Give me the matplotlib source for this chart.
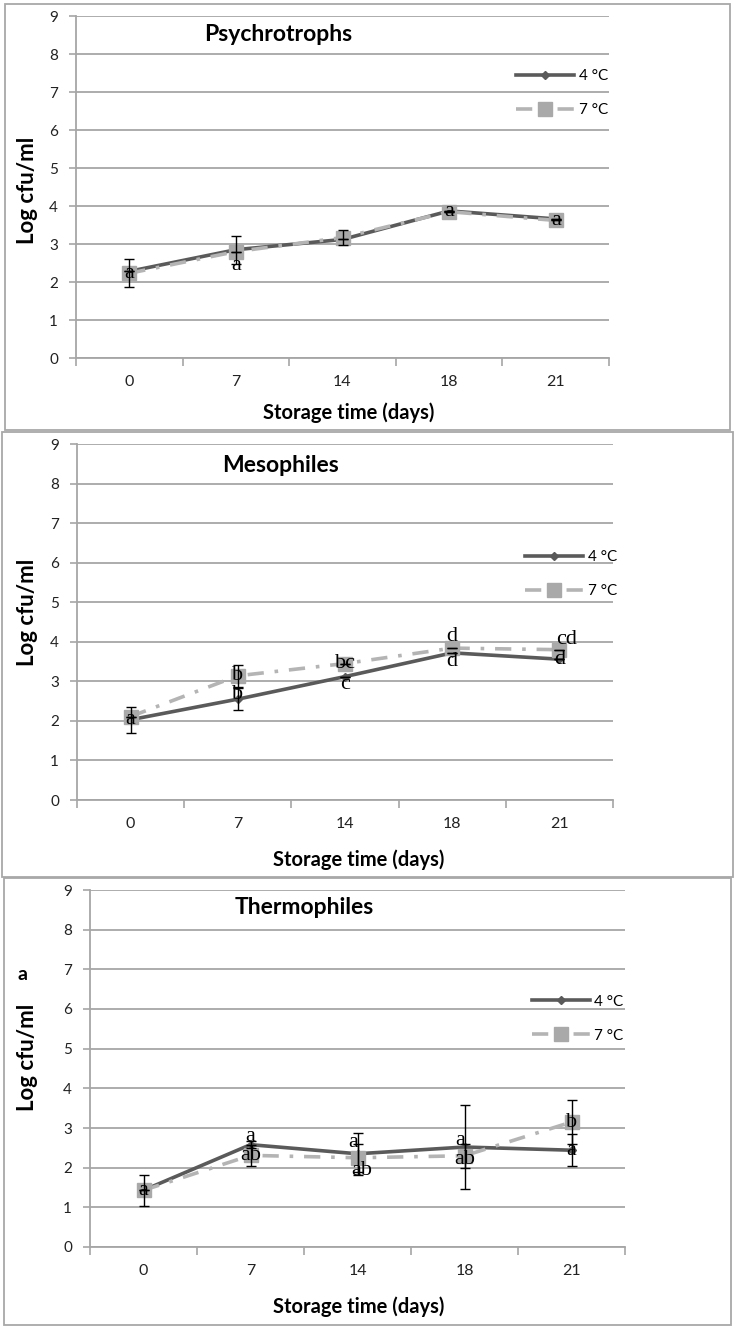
import matplotlib
matplotlib.use("Agg")
import matplotlib.pyplot as plt
from matplotlib.patches import Rectangle
import numpy as np

plt.rcParams['font.family'] = ['Lato', 'DejaVu Sans']

# ---- data ----
days = ["0", "7", "14", "18", "21"]
series_names = ["4 °C", "7 °C"]

psy_4 = [2.28, 2.85, 3.12, 3.87, 3.66]
psy_7 = [2.23, 2.80, 3.17, 3.85, 3.62]
psy_err4 = [0.0, 0.37, 0.0, 0.0, 0.0]
psy_err7 = [0.37, 0.0, 0.20, 0.0, 0.0]
psy_let4 = ["", "", "", "", ""]
psy_let7 = ["a", "a", "", "a", "a"]

mes_4 = [2.03, 2.55, 3.12, 3.72, 3.56]
mes_7 = [2.11, 3.14, 3.45, 3.84, 3.80]
mes_err4 = [0.33, 0.27, 0.0, 0.0, 0.0]
mes_err7 = [0.0, 0.28, 0.0, 0.0, 0.0]
mes_let4 = ["a", "b", "c", "d", "d"]
mes_let7 = ["", "b", "bc", "d", "cd"]

the_4 = [1.43, 2.58, 2.35, 2.52, 2.44]
the_7 = [1.43, 2.31, 2.25, 2.30, 3.15]
the_err4 = [0.39, 0.08, 0.53, 1.06, 0.40]
the_err7 = [0.0, 0.26, 0.35, 0.30, 0.55]
the_let4 = ["a", "a", "a", "a", "a"]
the_let7 = ["", "ab", "ab", "ab", "b"]

titles = ["Psychrotrophs", "Mesophiles", "Thermophiles"]

# ---- styling / placement ----
C4 = "#5a5a5a"
C7 = "#b4b4b4"
GRID = "#a6a6a6"
LETTER_FONT = ["Liberation Serif", "DejaVu Serif"]

W, H = 734, 1333
fig = plt.figure(figsize=(W / 100, H / 100), dpi=100)


def fy(py):
    return 1 - py / H


def fx(px):
    return px / W


# pixel boxes: (left, right, top, bottom) for axes, and panel frames
axes_px = [(76, 609, 16, 358), (77, 613, 444, 800), (90, 625, 890, 1247)]
frame_px = [(5, 730, 4, 430), (2, 733, 432, 877), (4, 731, 878, 1325)]
title_pos = [(0.38, 0.947), (0.38, 0.94), (0.40, 0.95)]
ylab_px = [(27, 190), (27, 612), (27, 1057)]
xlab_px = [(349, 413), (359, 860), (359, 1307)]
legend_anchor = [(0.80, 0.885), (0.81, 0.74), (0.80, 0.745)]

# letter offsets in points (x, y) for each series / day
off4 = [
    [(0, 0)] * 5,
    [(0, 0), (0, 3), (0, -6), (0, -6), (0, 0)],
    [(0, 0), (0, 6), (-3, 8), (-3, 5), (0, 0)],
]
off7 = [
    [(0, 0), (0, -10), (0, 0), (0, 0), (0, 0)],
    [(0, 0), (0, 0), (0, 0), (0, 8), (5, 7)],
    [(0, 0), (0, 0), (3, -9), (0, -3), (0, 0)],
]

panels = [
    (psy_4, psy_7, psy_err4, psy_err7, psy_let4, psy_let7),
    (mes_4, mes_7, mes_err4, mes_err7, mes_let4, mes_let7),
    (the_4, the_7, the_err4, the_err7, the_let4, the_let7),
]

x = np.arange(len(days))

for i, (v4, v7, e4, e7, l4, l7) in enumerate(panels):
    # panel frame
    fl, fr, ft, fb = frame_px[i]
    fig.patches.append(Rectangle((fx(fl), fy(fb)), fx(fr) - fx(fl), fy(ft) - fy(fb),
                                 transform=fig.transFigure, fill=False,
                                 edgecolor="#a8a8a8", linewidth=1.3))

    l, r, t, b = axes_px[i]
    ax = fig.add_axes([fx(l), fy(b), fx(r) - fx(l), fy(t) - fy(b)])
    ax.set_xlim(-0.5, len(days) - 0.5)
    ax.set_ylim(0, 9)
    ax.set_yticks(range(0, 10))
    ax.set_xticks(x)
    ax.set_xticklabels(days)
    ax.set_xticks(np.arange(-0.5, len(days)), minor=True)
    ax.tick_params(axis="x", which="major", length=0, pad=12, labelsize=11.5,
                   labelcolor="#222222")
    ax.tick_params(axis="x", which="minor", length=6, width=1.2, color=GRID,
                   direction="out")
    ax.tick_params(axis="y", length=5, width=1.2, color=GRID, pad=8,
                   labelsize=11, labelcolor="#222222")
    for s in ["top", "right"]:
        ax.spines[s].set_visible(False)
    for s in ["left", "bottom"]:
        ax.spines[s].set_color(GRID)
        ax.spines[s].set_linewidth(1.3)
    ax.yaxis.grid(True, color=GRID, linewidth=1.3)
    ax.set_axisbelow(True)

    ax.errorbar(x, v4, yerr=e4, fmt="none", ecolor="black", elinewidth=1,
                capsize=3.5, capthick=1, zorder=5)
    ax.errorbar(x, v7, yerr=e7, fmt="none", ecolor="black", elinewidth=1,
                capsize=3.5, capthick=1, zorder=5)

    ax.plot(x, v4, color=C4, linewidth=2.6, marker="D", markersize=4.5,
            markerfacecolor=C4, markeredgecolor=C4, label=series_names[0], zorder=3)
    ax.plot(x, v7, color=C7, linewidth=2.6, dashes=(4.5, 3, 1, 3),
            marker="s", markersize=10.5, markerfacecolor="#a9a9a9",
            markeredgecolor="#a9a9a9", label=series_names[1], zorder=4)

    for j in range(len(days)):
        if l4[j]:
            ax.annotate(l4[j], (x[j], v4[j]), xytext=off4[i][j], textcoords="offset points",
                        ha="center", va="center", fontsize=16, color="black",
                        family=LETTER_FONT, zorder=6)
        if l7[j]:
            ax.annotate(l7[j], (x[j], v7[j]), xytext=off7[i][j], textcoords="offset points",
                        ha="center", va="center", fontsize=16, color="black",
                        family=LETTER_FONT, zorder=6)

    ax.text(title_pos[i][0], title_pos[i][1], titles[i], transform=ax.transAxes,
            ha="center", va="center", fontsize=16.5, fontweight="bold")

    ax.legend(loc="upper left", bbox_to_anchor=legend_anchor[i], frameon=False,
              handlelength=3.8, handletextpad=0.3, labelspacing=1.3, fontsize=11)

    fig.text(fx(ylab_px[i][0]), fy(ylab_px[i][1]), "Log cfu/ml", rotation=90,
             ha="center", va="center", fontsize=16, fontweight="bold")
    fig.text(fx(xlab_px[i][0]), fy(xlab_px[i][1]), "Storage time (days)",
             ha="center", va="center", fontsize=14.5, fontweight="bold")

# stray panel mark next to the third chart
fig.text(fx(22), fy(975), "a", ha="center", va="center", fontsize=14,
         fontweight="bold")

fig.savefig("out.png", dpi=100)
